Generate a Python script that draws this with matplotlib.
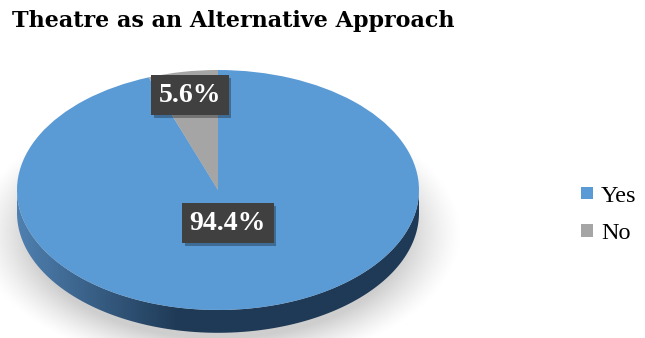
import matplotlib.pyplot as plt
import matplotlib.patheffects as pe
from matplotlib.colors import to_rgb
from matplotlib.patches import Polygon
import numpy as np

# data
labels = ['Yes', 'No']
shares = [94.4, 5.6]
top_colors = ['#5b9bd5', '#a5a5a5']
side_colors = [('#4f80b0', '#1f3a56'), ('#7a7a7a', '#4a4a4a')]
label_dist = [0.28, 0.80]

W, H = 645, 338
fig = plt.figure(figsize=(W / 100, H / 100), dpi=100)

# pie geometry in pixels: centre, x radius, y radius, depth
cx, cy, rx, ry = 218, 190, 201, 120
depth = 0.19
xl, yl = (-1.25, 1.25), (-1.55, 1.2)
ax = fig.add_axes([(cx + xl[0] * rx) / W, (H - cy + yl[0] * ry) / H,
                   (xl[1] - xl[0]) * rx / W, (yl[1] - yl[0]) * ry / H])

start = 90 + shares[1] * 3.6
wedges, _ = ax.pie(shares, colors=top_colors, startangle=start, counterclock=True,
                   wedgeprops=dict(linewidth=0, edgecolor='none', zorder=5))
ax.set_aspect('auto')
ax.set_xlim(*xl)
ax.set_ylim(*yl)
ax.axis('off')

# soft shadow under the disc
gx = np.linspace(xl[0], xl[1], 500)
gy = np.linspace(yl[0], yl[1], 400)
X, Y = np.meshgrid(gx, gy)
r = np.sqrt((X / 1.06) ** 2 + ((Y + 0.36) / 1.0) ** 2)
alpha = np.clip((1.14 - r) / 0.26, 0, 1) ** 1.3 * 0.5
shadow = np.zeros(X.shape + (4,))
shadow[..., :3] = 0.62
shadow[..., 3] = alpha
ax.imshow(shadow, extent=(xl[0], xl[1], yl[0], yl[1]), origin='lower',
          aspect='auto', zorder=1, interpolation='bilinear')

# visible side wall of every wedge (front half only)
for w, (c1, c2) in zip(wedges, side_colors):
    t1, t2 = w.theta1 % 360, w.theta2 % 360
    if t2 <= t1:
        t2 += 360
    for base in (0, 360):
        a = max(t1, 180 + base)
        b = min(t2, 360 + base)
        if b <= a:
            continue
        t = np.radians(np.linspace(a, b, 200))
        top = np.column_stack([np.cos(t), np.sin(t)])
        bot = np.column_stack([np.cos(t[::-1]), np.sin(t[::-1]) - depth])
        poly = Polygon(np.vstack([top, bot]), closed=True, facecolor='none',
                       edgecolor='none', zorder=3)
        ax.add_patch(poly)
        ramp = np.clip((np.linspace(-1, 1, 256) + 1) / 0.8, 0, 1)
        cc1, cc2 = np.array(to_rgb(c1)), np.array(to_rgb(c2))
        img = cc1[None, :] * (1 - ramp[:, None]) + cc2[None, :] * ramp[:, None]
        im = ax.imshow(img[None, :, :], extent=(-1, 1, -1 - depth, 0),
                       aspect='auto', zorder=3, interpolation='bilinear')
        im.set_clip_path(poly)

# percentage labels
for w, s, d in zip(wedges, shares, label_dist):
    mid = np.radians((w.theta1 + w.theta2) / 2)
    x, y = d * np.cos(mid), d * np.sin(mid)
    t = ax.text(x, y, f'{s}%', ha='center', va='center', fontsize=20,
                fontweight='bold', family='Liberation Serif', color='white',
                zorder=7, bbox=dict(boxstyle='square,pad=0.27',
                                    facecolor='#404040', edgecolor='none'))
    t.get_bbox_patch().set_path_effects(
        [pe.SimplePatchShadow(offset=(2, -2), shadow_rgbFace='black', alpha=0.3),
         pe.Normal()])

fig.text(12 / W, 1 - 10 / H, 'Theatre as an Alternative Approach', ha='left',
         va='top', fontsize=16, fontweight='bold', family='DejaVu Serif')

fig.legend(wedges, labels, loc='center left', bbox_to_anchor=(581 / W, 1 - 215 / H),
           frameon=False, prop=dict(family='Liberation Serif', size=17.5),
           handlelength=0.48, handleheight=0.42, handletextpad=0.35,
           labelspacing=0.68, borderpad=0, borderaxespad=0)

fig.savefig('out.png', dpi=100)
